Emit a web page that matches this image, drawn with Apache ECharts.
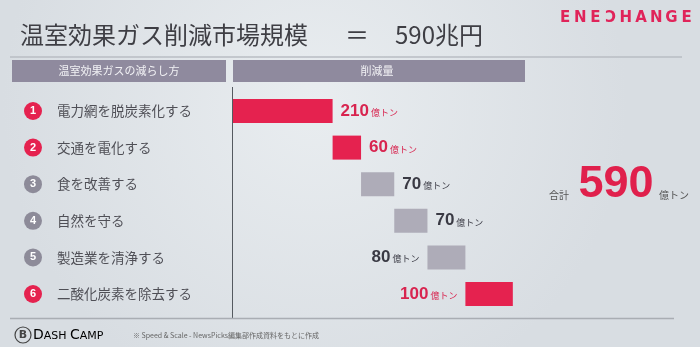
<!DOCTYPE html>
<html>
<head>
<meta charset="utf-8">
<script src="https://cdn.jsdelivr.net/npm/echarts@6/dist/echarts.min.js"></script>
<style>html,body{margin:0;padding:0;}#c{width:700px;height:347px;}</style>
</head>
<body>
<div id="c"></div>
<script>
// ---- data ----
var categories = ['電力網を脱炭素化する', '交通を電化する', '食を改善する', '自然を守る', '製造業を清浄する', '二酸化炭素を除去する'];
var values = [210, 60, 70, 70, 80, 100];
var unit = '億トン';
var titleMain = '温室効果ガス削減市場規模';
var titleValue = '590兆円';
var headerLeft = '温室効果ガスの減らし方';
var headerRight = '削減量';
var totalLabel = '合計';
var sourceNote = '※ Speed & Scale - NewsPicks編集部作成資料をもとに作成';

// ---- styles ----
var RED = '#e5224f', GRAY_BAR = '#aeacb8', GRAY_CIRC = '#8d8b99', HEADER = '#8f8a9e', TXT = '#4f4f56';
var FONT = '"Noto Sans CJK JP", "Noto Sans", sans-serif';
var NUMFONT = '"Liberation Sans", Arial, sans-serif';
var isRed = [true, true, false, false, false, true];
var labelPos = ['right', 'right', 'right', 'right', 'left', 'left'];

var base = [], acc = 0;
values.forEach(function (v) { base.push(acc); acc += v; });
var total = acc;

var valueData = values.map(function (v, i) {
  var c = isRed[i] ? '#d8244f' : '#3a3a44';
  return {
    value: v,
    itemStyle: { color: isRed[i] ? RED : GRAY_BAR },
    label: { position: labelPos[i], rich: {
      n: { fontSize: 17, fontWeight: 'bold', color: c, fontFamily: NUMFONT },
      u: { fontSize: 9, color: c, fontFamily: FONT, padding: [3, 0, 0, 2] }
    } }
  };
});

var graphics = [
  { type: 'rect', z: -100, shape: { x: 0, y: 0, width: 700, height: 347 }, silent: true,
    style: { fill: { type: 'radial', x: 0.45, y: 0.3, r: 0.9, colorStops: [
      { offset: 0, color: '#e9edf0' }, { offset: 1, color: '#d8dde2' }] } } },
  { type: 'text', x: 20, y: 35, style: { text: titleMain, font: '24px ' + FONT, fill: '#3e3e44', textVerticalAlign: 'middle' } },
  { type: 'text', x: 345, y: 35, style: { text: '＝', font: '24px ' + FONT, fill: '#3e3e44', textVerticalAlign: 'middle' } },
  { type: 'text', x: 395, y: 35, style: { text: titleValue, font: '24px ' + FONT, fill: '#3e3e44', textVerticalAlign: 'middle' } },
  { type: 'line', shape: { x1: 10, y1: 57, x2: 682, y2: 57 }, style: { stroke: '#b9bdc3', lineWidth: 1.5 } },
  { type: 'rect', shape: { x: 12, y: 60, width: 214, height: 22 }, style: { fill: HEADER } },
  { type: 'rect', shape: { x: 233, y: 60, width: 292, height: 22 }, style: { fill: HEADER } },
  { type: 'text', x: 119, y: 71, style: { text: headerLeft, font: '11px ' + FONT, fill: '#f2f2f5', textAlign: 'center', textVerticalAlign: 'middle' } },
  { type: 'text', x: 377, y: 71, style: { text: headerRight, font: '11px ' + FONT, fill: '#f2f2f5', textAlign: 'center', textVerticalAlign: 'middle' } },
  { type: 'line', shape: { x1: 232.5, y1: 87, x2: 232.5, y2: 318 }, style: { stroke: '#555a60', lineWidth: 1 } },
  { type: 'line', shape: { x1: 10, y1: 318.5, x2: 674, y2: 318.5 }, style: { stroke: '#a9adb3', lineWidth: 1.5 } },
  { type: 'text', x: 569, y: 195, style: { text: totalLabel, font: '10px ' + FONT, fill: '#555', textAlign: 'right', textVerticalAlign: 'middle' } },
  { type: 'text', x: 616, y: 185, style: { text: String(total), font: 'bold 45px ' + NUMFONT, fill: '#e0204c', textAlign: 'center', textVerticalAlign: 'middle' } },
  { type: 'text', x: 659, y: 195, style: { text: unit, font: '10px ' + FONT, fill: '#555', textVerticalAlign: 'middle' } },
  { type: 'circle', shape: { cx: 23, cy: 335, r: 8 }, style: { fill: 'none', stroke: '#444', lineWidth: 1.2 } },
  { type: 'text', x: 23, y: 335.5, style: { text: 'B', font: 'bold 11px "DejaVu Sans", sans-serif', fill: '#444', textAlign: 'center', textVerticalAlign: 'middle' } },
  { type: 'text', x: 33, y: 335, style: { text: '{b|D}{s|ASH }{b|C}{s|AMP}', textVerticalAlign: 'middle',
      rich: { b: { fontSize: 14, fontFamily: '"DejaVu Sans", sans-serif', color: '#444' },
              s: { fontSize: 11, fontFamily: '"DejaVu Sans", sans-serif', color: '#444', padding: [2, 0, 0, 0] } } } },
  { type: 'text', x: 133, y: 335, style: { text: sourceNote, font: '7px ' + FONT, fill: '#666', textVerticalAlign: 'middle' } }
];

var logo = 'ENECHANGE';
for (var k = 0; k < logo.length; k++) {
  graphics.push({ type: 'text', x: 565 + k * 15.2, y: 18, scaleX: k === 3 ? -1 : 1,
    style: { text: logo[k], font: 'bold 15px "DejaVu Sans", sans-serif', fill: '#e0245a', textAlign: 'center', textVerticalAlign: 'middle' } });
}

var circ = function (bg) {
  return { width: 18, height: 18, lineHeight: 18, borderRadius: 9, backgroundColor: bg, color: '#fff', align: 'center',
           fontSize: 11, fontWeight: 'bold', fontFamily: NUMFONT };
};

var chart = echarts.init(document.getElementById('c'), null, { renderer: 'canvas' });
chart.setOption({
  animation: false,
  backgroundColor: '#e2e6ea',
  grid: { left: 233, right: 135, top: 92.7, bottom: 34.7 },
  xAxis: { type: 'value', min: 0, max: 700, show: false },
  yAxis: {
    type: 'category', data: categories, inverse: true,
    axisLine: { show: false }, axisTick: { show: false }, splitLine: { show: false },
    axisLabel: {
      align: 'left', margin: 209,
      formatter: function (v, i) {
        return '{' + (isRed[i] ? 'cr' : 'cg') + '|' + (i + 1) + '}{t|' + v + '}';
      },
      rich: {
        cr: circ(RED),
        cg: circ(GRAY_CIRC),
        t: { fontSize: 13.5, color: TXT, fontFamily: FONT, padding: [0, 0, 0, 15] }
      }
    }
  },
  series: [
    { type: 'bar', stack: 'w', data: base, barWidth: 24, itemStyle: { color: 'transparent' }, silent: true },
    { type: 'bar', stack: 'w', data: valueData, barWidth: 24,
      label: { show: true, distance: 8, formatter: '{n|{c}}{u|' + unit + '}' } }
  ],
  graphic: graphics
});
</script>
</body>
</html>
